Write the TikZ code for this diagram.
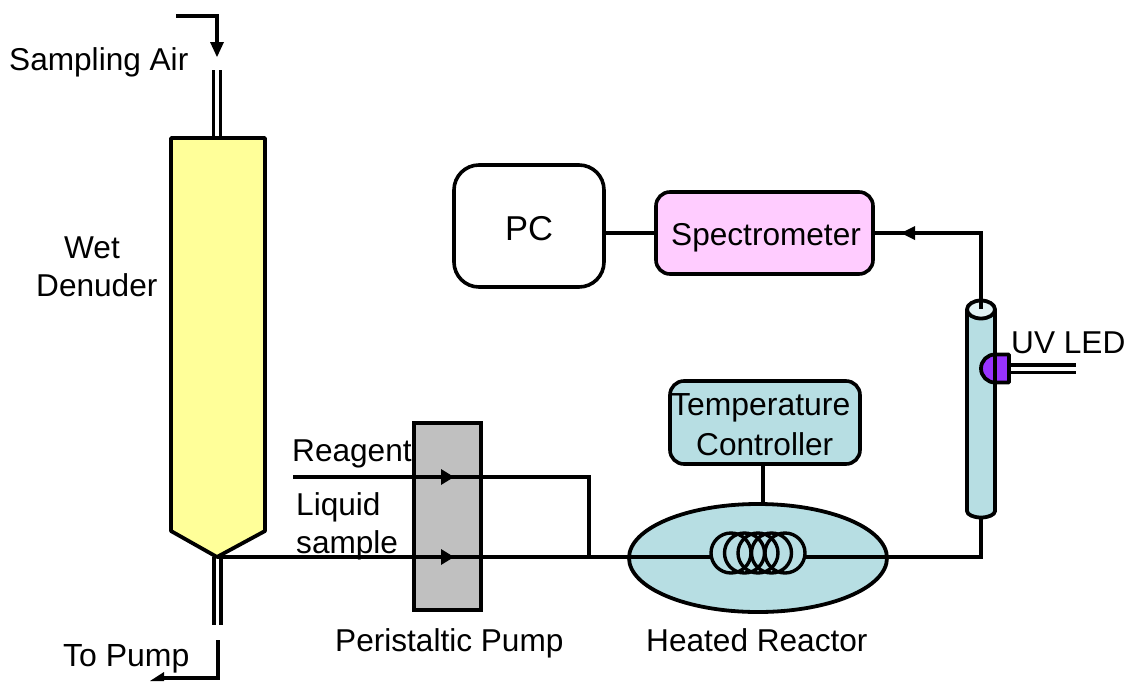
\documentclass[tikz,border=0pt]{standalone}
\usepackage{fontspec}
\setmainfont{Liberation Sans}
\usetikzlibrary{arrows.meta,shapes.geometric}
\definecolor{lblue}{HTML}{B7DEE3}
\definecolor{lyellow}{HTML}{FFFF99}
\definecolor{lpink}{HTML}{FFCCFF}
\definecolor{lgray}{HTML}{C0C0C0}
\definecolor{ledviolet}{HTML}{9933FF}
\tikzset{
  x=1pt,y=-1pt,
  line/.style={line width=3.8pt,line join=round},
  thinline/.style={line width=3.4pt},
  thick box/.style={draw,line width=3.6pt,inner sep=0pt},
  round box/.style={thick box,rounded corners=#1},
  label/.style={anchor=base west,inner sep=0pt,xshift=-1pt,font=\fontsize{31.6}{31.6}\selectfont},
  head/.style={fill=black,draw=none},
}
\begin{document}
\begin{tikzpicture}
\useasboundingbox (0,0) rectangle (1125,681);
% sampling air inlet
\coordinate (inA) at (176,16);
\coordinate (inB) at (217,16);
\coordinate (inC) at (217,46);
\draw[line,line join=miter] (inA) -- (inB) -- (inC);
\path[head] (210,42) -- (224,42) -- (217,57) -- cycle;
% denuder tubes
\coordinate (tubeTopL) at (213.5,70);
\coordinate (tubeTopR) at (220.5,70);
\coordinate (tubeTopLb) at (213.5,138);
\coordinate (tubeTopRb) at (220.5,138);
\draw[line] (tubeTopL) -- (tubeTopLb) (tubeTopR) -- (tubeTopRb);
\coordinate (tip) at (217,557);
\coordinate (tubeBotL) at (214,557);
\coordinate (tubeBotR) at (221,557);
\coordinate (tubeBotLe) at (214,625);
\coordinate (tubeBotRe) at (221,625);
\draw[line] (tubeBotL) -- (tubeBotLe) (tubeBotR) -- (tubeBotRe);
% wet denuder
\draw[line,fill=lyellow] (171,138) -- (265,138) -- (265,531) -- (tip) -- (171,531) -- cycle;
% outlet
\coordinate (outA) at (218,640);
\coordinate (outB) at (218,678);
\coordinate (outC) at (160,678);
\draw[line,line join=miter] (outA) -- (outB) -- (outC);
\path[head] (164,672) -- (164,681) -- (150,681) -- cycle;
% pump
\node[thick box,fill=lgray,minimum width=67pt,minimum height=187pt] (pump) at (447.5,516.5) {};
% reactor
\node[draw,line width=3.8pt,ellipse,inner sep=0pt,fill=lblue,minimum width=258pt,minimum height=108pt] (reactor) at (758,558) {};
% coil
\foreach \cx in {731,744.5,758,771.5,785}
  \draw[line width=3.4pt] (\cx,553) ellipse[x radius=20,y radius=20];
\coordinate (coilL) at (711,557);
\coordinate (coilR) at (805,557);
% lines
\coordinate (reagentStart) at (293,477);
\coordinate (reagentCorner) at (589,477);
\coordinate (join) at (589,557);
\coordinate (cylBottom) at (981,517);
\coordinate (cornerBR) at (981,557);
\draw[thinline,line join=miter] (reagentStart) -- (reagentCorner) -- (join);
\draw[thinline] (tip) -- (coilL);
\draw[thinline,line join=miter] (coilR) -- (cornerBR) -- (cylBottom);
\path[head] (441,469) -- (454,477) -- (441,485) -- cycle;
\path[head] (441,549) -- (454,557) -- (441,565) -- cycle;
% flow cell
\draw[line,fill=lblue] (967,309.5) -- (967,511) arc[start angle=180,end angle=0,x radius=14,y radius=6.5] -- (995,309.5);
\coordinate (cellTop) at (981,309);
\draw[line,fill=lblue!40!white] (981,309.5) ellipse[x radius=14,y radius=9];
% LED
\draw[line,fill=ledviolet] (1009,354.5) -- (995,354.5) arc[start angle=270,end angle=90,radius=14] -- (1009,382.5) -- cycle;
\draw[line] (995,354) -- (995,383);
\coordinate (ledA) at (1009,365);
\coordinate (ledB) at (1009,372.5);
\coordinate (ledAe) at (1076,365);
\coordinate (ledBe) at (1076,372.5);
\draw[line] (ledA) -- (ledAe) (ledB) -- (ledBe);
% boxes
\node[round box=25pt,fill=white,minimum width=150pt,minimum height=122pt] (pc) at (529,226) {};
\node[round box=14pt,fill=lpink,minimum width=217pt,minimum height=82pt] (spec) at (764.5,233) {};
\node[round box=14pt,fill=lblue,minimum width=190pt,minimum height=83pt] (temp) at (765,422.5) {};
% connectors
\draw[thinline] (pc.east |- spec.west) -- (spec.west);
\coordinate (cornerTR) at (981,233);
\draw[thinline,line join=miter] (cellTop) -- (cornerTR) -- (spec.east);
\path[head] (915,226) -- (915,240) -- (901,233) -- cycle;
\draw[thinline] (763,464) -- (763,504);
% labels
\node[label] (l1) at (10,70) {Sampling Air};
\node[label] (l2) at (65,258) {Wet};
\node[label] (l3) at (37,296) {Denuder};
\node[label,font=\fontsize{32}{32}\selectfont] (l4) at (64,666) {To Pump};
\node[label] (l5) at (293,461) {Reagent};
\node[label] (l6) at (297,515) {Liquid};
\node[label] (l7) at (297,553) {sample};
\node[label] (l8) at (336,651) {Peristaltic Pump};
\node[label] (l9) at (647,651) {Heated Reactor};
\node[label] (l10) at (1012,353) {UV LED};
\node[label,font=\fontsize{34.5}{34.5}\selectfont] (l11) at (506,240) {PC};
\node[label] (l12) at (672,245) {Spectrometer};
\node[label,font=\fontsize{31.9}{31.9}\selectfont] (l13) at (672,415) {Temperature};
\node[label] (l14) at (697,455) {Controller};
\end{tikzpicture}
\end{document}
